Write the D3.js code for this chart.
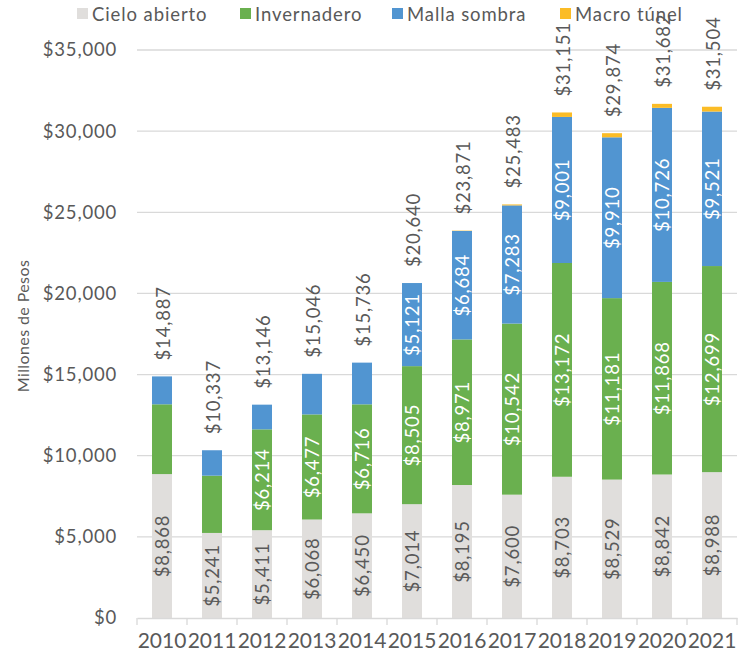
<!DOCTYPE html>
<html><head><meta charset="utf-8">
<script src="https://cdn.jsdelivr.net/npm/d3@7"></script>
<style>
body{margin:0;background:#fff;}
text{font-family:Lato,"Open Sans",sans-serif;fill:#595959;}
</style></head>
<body><svg id="c" width="746" height="655"></svg>
<script>
const years = ["2010","2011","2012","2013","2014","2015","2016","2017","2018","2019","2020","2021"];
const seriesNames = ["Cielo abierto","Invernadero","Malla sombra","Macro túnel"];
const cieloAbierto = [8868,5241,5411,6068,6450,7014,8195,7600,8703,8529,8842,8988];
const invernadero  = [4300,3529,6214,6477,6716,8505,8971,10542,13172,11181,11868,12699];
const mallaSombra  = [1719,1567,1521,2501,2570,5121,6684,7283,9001,9910,10726,9521];
const macroTunel   = [0,0,0,0,0,0,21,58,275,254,246,296];
const totals       = [14887,10337,13146,15046,15736,20640,23871,25483,31151,29874,31682,31504];
// which segment values are labelled inside the bar
const showCielo = [1,1,1,1,1,1,1,1,1,1,1,1];
const showInv   = [0,0,1,1,1,1,1,1,1,1,1,1];
const showMalla = [0,0,0,0,0,1,1,1,1,1,1,1];
const yTicks = [0,5000,10000,15000,20000,25000,30000,35000];
const colors = ["#E0DEDC","#6AB04F","#5195D1","#FBBC26"];

const svg = d3.select("#c");
const W=746,H=655, L=137, R=737, T=50, B=618;
const x = d3.scaleBand().domain(years).range([L,R]).paddingInner(0.6).paddingOuter(0.3);
const y = d3.scaleLinear().domain([0,35000]).range([B,T]);
const fmt = v => "$" + d3.format(",")(v);

// gridlines
svg.append("g").selectAll("line").data(yTicks.filter(d=>d>0)).join("line")
  .attr("x1",L).attr("x2",R).attr("y1",d=>y(d)).attr("y2",d=>y(d))
  .attr("stroke","#D9D9D9").attr("stroke-width",1.3);

// y axis labels
const ya = svg.append("g").attr("transform",`translate(${L},0)`)
  .call(d3.axisLeft(y).tickValues(yTicks).tickFormat(fmt).tickSize(0).tickPadding(20));
ya.select(".domain").remove();
ya.selectAll("text").attr("font-size",18.5).attr("letter-spacing",0.8).style("font-family","Lato").attr("fill","#595959");

// y title
svg.append("text").attr("transform","translate(22,326) rotate(-90)")
  .attr("text-anchor","middle").attr("dominant-baseline","central")
  .attr("font-size",16).attr("letter-spacing",0.4).text("Millones de Pesos");

// stacked bars
const rows = years.map((yr,i)=>({year:yr, "Cielo abierto":cieloAbierto[i], "Invernadero":invernadero[i], "Malla sombra":mallaSombra[i], "Macro túnel":macroTunel[i]}));
const stack = d3.stack().keys(seriesNames)(rows);
const g = svg.append("g");
stack.forEach((s,si)=>{
  g.append("g").attr("fill",colors[si]).selectAll("rect").data(s).join("rect")
   .attr("x",d=>x(d.data.year)).attr("width",x.bandwidth())
   .attr("y",d=>y(d[1])).attr("height",d=>y(d[0])-y(d[1]));
});

// inside labels
const showFlags=[showCielo,showInv,showMalla];
const labelColors=["#595959","#fff","#fff"];
stack.slice(0,3).forEach((s,si)=>{
  g.append("g").selectAll("text").data(s.filter((d,i)=>showFlags[si][i])).join("text")
   .attr("transform",d=>`translate(${x(d.data.year)+x.bandwidth()/2},${(y(d[0])+y(d[1]))/2}) rotate(-90)`)
   .attr("text-anchor","middle").attr("dominant-baseline","central")
   .attr("font-size",18.5).attr("letter-spacing",0.8)
   .style("fill",labelColors[si])
   .text(d=>fmt(d[1]-d[0]));
});

// totals
g.append("g").selectAll("text").data(years).join("text")
  .attr("transform",(d,i)=>`translate(${x(d)+x.bandwidth()/2+1},${y(totals[i])-16}) rotate(-90)`)
  .attr("text-anchor","start").attr("dominant-baseline","central")
  .attr("font-size",18.5).attr("letter-spacing",0.8)
  .text((d,i)=>fmt(totals[i]));

// x axis
const xa = svg.append("g").attr("transform",`translate(0,${B})`)
  .call(d3.axisBottom(x).tickSize(0).tickPadding(15));
xa.select(".domain").attr("stroke","#D9D9D9").attr("stroke-width",1.3);
xa.selectAll("text").attr("font-size",21).attr("letter-spacing",0).style("font-family","Lato").attr("fill","#595959").attr("dy","0.72em");
const step = x.step();
svg.append("g").selectAll("line").data(d3.range(years.length+1)).join("line")
  .attr("x1",i=>L+i*step).attr("x2",i=>L+i*step).attr("y1",B).attr("y2",B+7)
  .attr("stroke","#D9D9D9").attr("stroke-width",1.3);

// legend
const legX=[77,240,392,560];
const lg = svg.append("g");
seriesNames.forEach((n,i)=>{
  lg.append("rect").attr("x",legX[i]).attr("y",8).attr("width",11).attr("height",11).attr("fill",colors[i]);
  lg.append("text").attr("x",legX[i]+15).attr("y",14).attr("dominant-baseline","central")
    .attr("font-size",18.5).attr("letter-spacing",0.9).text(n);
});
</script></body></html>
